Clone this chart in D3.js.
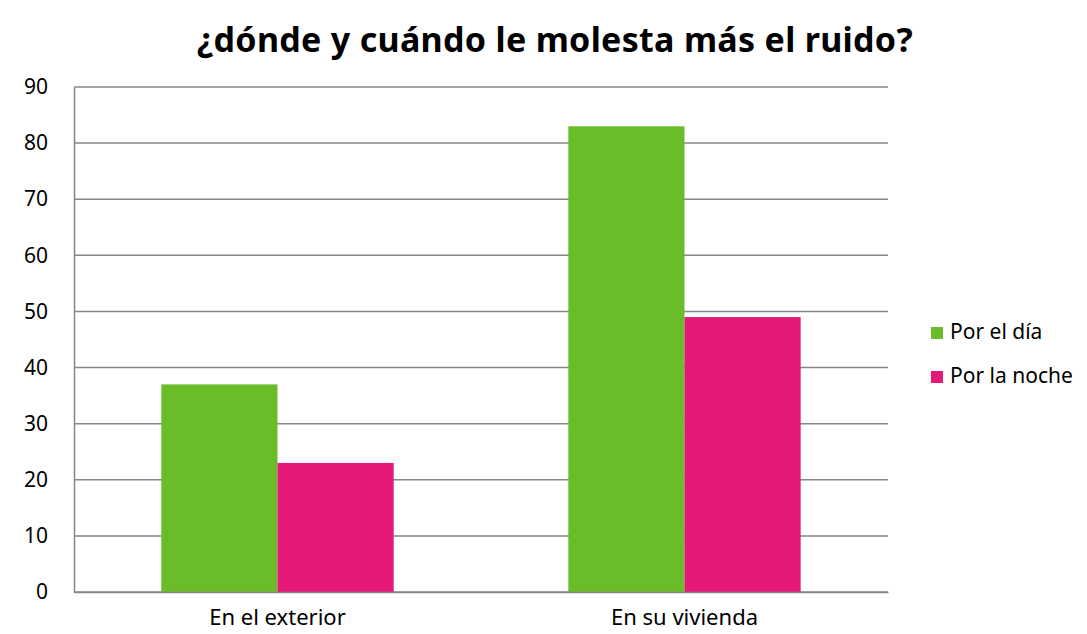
<!DOCTYPE html>
<html>
<head>
<meta charset="utf-8">
<script src="https://cdn.jsdelivr.net/npm/d3@7"></script>
<style>
  body { margin: 0; background: #fff; }
  text { font-family: "Noto Sans", "Open Sans", sans-serif; fill: #000; }
</style>
</head>
<body>
<div id="chart"></div>
<script>
// data
const categories = ["En el exterior", "En su vivienda"];
const seriesNames = ["Por el día", "Por la noche"];
const porElDia = [37, 83];
const porLaNoche = [23, 49];
const yTicks = [0, 10, 20, 30, 40, 50, 60, 70, 80, 90];
const colors = ["#6abd29", "#e31877"];

const width = 1087, height = 634;
const margin = {top: 87, right: 199, bottom: 42, left: 74};

const svg = d3.select("#chart").append("svg")
    .attr("width", width)
    .attr("height", height);

// title
svg.append("text")
    .attr("x", 555)
    .attr("y", 52)
    .attr("text-anchor", "middle")
    .style("font-size", "34px")
    .style("font-weight", "bold")
    .style("letter-spacing", "0.3px")
    .text("¿dónde y cuándo le molesta más el ruido?");

const x0 = d3.scaleBand()
    .domain(categories)
    .range([margin.left, width - margin.right])
    .paddingInner(0)
    .paddingOuter(0);

const x1 = d3.scaleBand()
    .domain(seriesNames)
    .range([0, x0.bandwidth()])
    .paddingOuter(0.7518)
    .paddingInner(0);

const y = d3.scaleLinear()
    .domain([0, 90])
    .range([height - margin.bottom, margin.top]);

// gridlines
svg.append("g")
    .selectAll("line")
    .data(yTicks)
    .enter().append("line")
    .attr("x1", margin.left)
    .attr("x2", width - margin.right)
    .attr("y1", d => y(d))
    .attr("y2", d => y(d))
    .attr("stroke", "#868686")
    .attr("stroke-width", 1.5);

// bars
const rows = categories.map((c, i) => ({cat: c, vals: [porElDia[i], porLaNoche[i]]}));

svg.append("g")
    .selectAll("g")
    .data(rows)
    .enter().append("g")
    .attr("transform", d => `translate(${x0(d.cat)},0)`)
    .selectAll("rect")
    .data(d => d.vals.map((v, j) => ({name: seriesNames[j], value: v, j: j})))
    .enter().append("rect")
    .attr("x", d => x1(d.name))
    .attr("y", d => y(d.value))
    .attr("width", x1.bandwidth())
    .attr("height", d => y(0) - y(d.value))
    .attr("fill", d => colors[d.j]);

// y axis
const yAxis = svg.append("g")
    .attr("transform", `translate(${margin.left},0)`)
    .call(d3.axisLeft(y).tickValues(yTicks).tickSize(0).tickPadding(26));
yAxis.select(".domain").attr("stroke", "#868686").attr("stroke-width", 1.5);
yAxis.selectAll("text").style("font-size", "21px").attr("fill", "#000");

// x axis
const xAxis = svg.append("g")
    .attr("transform", `translate(0,${y(0)})`)
    .call(d3.axisBottom(x0).tickSize(0).tickPadding(17));
xAxis.select(".domain").attr("stroke", "#868686").attr("stroke-width", 1.5);
xAxis.selectAll("text").style("font-size", "22px").attr("fill", "#000");

// legend
const legend = svg.append("g")
    .attr("transform", "translate(931,327)");
seriesNames.forEach((s, i) => {
    const g = legend.append("g").attr("transform", `translate(0,${i * 44})`);
    g.append("rect")
        .attr("x", 0).attr("y", 0)
        .attr("width", 12).attr("height", 12)
        .attr("fill", colors[i]);
    g.append("text")
        .attr("x", 19)
        .attr("y", 12)
        .style("font-size", "21px")
        .text(s);
});
</script>
</body>
</html>
